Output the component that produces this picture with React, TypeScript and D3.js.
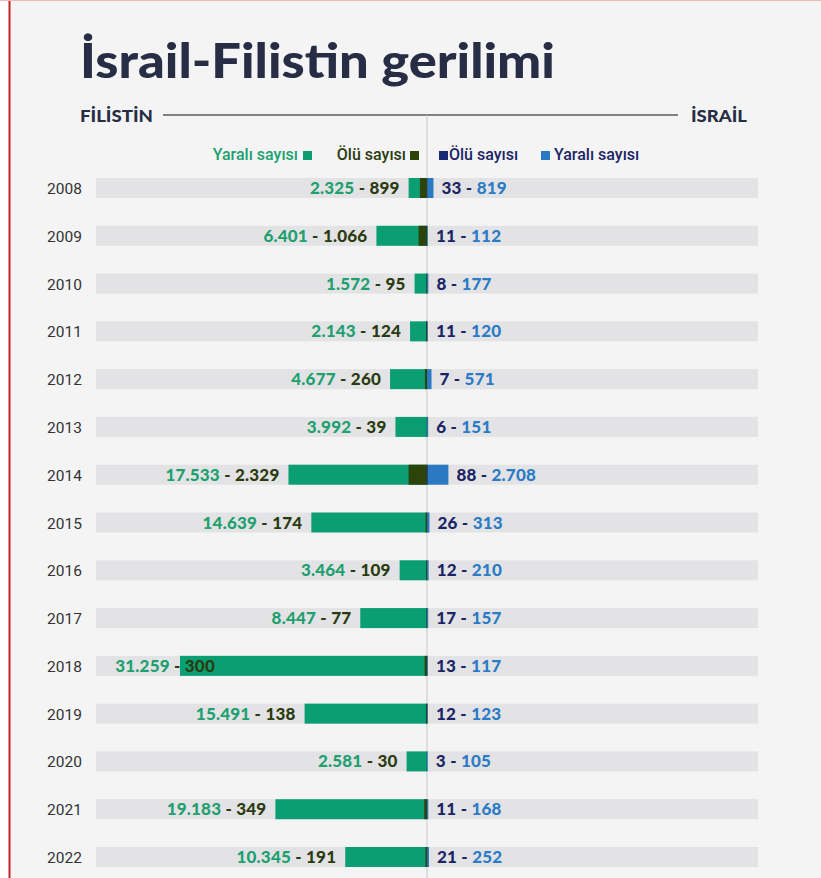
import React from "react";
import * as d3 from "d3";

const years = ["2008","2009","2010","2011","2012","2013","2014","2015","2016","2017","2018","2019","2020","2021","2022"];
const palInjured = [2325, 6401, 1572, 2143, 4677, 3992, 17533, 14639, 3464, 8447, 31259, 15491, 2581, 19183, 10345];
const palDead = [899, 1066, 95, 124, 260, 39, 2329, 174, 109, 77, 300, 138, 30, 349, 191];
const isrDead = [33, 11, 8, 11, 7, 6, 88, 26, 12, 17, 13, 12, 3, 11, 21];
const isrInjured = [819, 112, 177, 120, 571, 151, 2708, 313, 210, 157, 117, 123, 105, 168, 252];

const W = 821, H = 878;
const CX = 427;
const C = {
  bg: "#f4f4f4",
  title: "#262d45",
  greenBar: "#0c9e73",
  oliveBar: "#2c4309",
  blueBar: "#2b79c3",
  navyBar: "#182a72",
  greenText: "#20a06f",
  oliveText: "#2b3b10",
  navyText: "#1b2566",
  blueText: "#2b7bc6",
  track: "#e3e3e5",
};

const locale = d3.formatLocale({ decimal: ",", thousands: ".", grouping: [3], currency: ["", "₺"] });
const fmt = locale.format(",d");

export default function App() {
  const x = d3.scaleLinear().domain([0, d3.max(palInjured)!]).range([0, 247]);
  const y = d3.scalePoint<string>().domain(years).range([188, 857]);
  const numFont = "Lato, 'Open Sans', sans-serif";
  const sans = "Roboto, 'Noto Sans', sans-serif";
  return (
    <svg width={W} height={H} style={{ position: "absolute", left: 0, top: 0, display: "block" }}>
      <rect x={0} y={0} width={W} height={H} fill="#ffffff" />
      <rect x={10} y={0} width={W - 10} height={H} fill={C.bg} />
      <line x1={9.5} x2={9.5} y1={0} y2={H} stroke="#c8232c" strokeWidth={2} />
      <line x1={0} x2={W} y1={0.5} y2={0.5} stroke="#efb9b9" strokeWidth={1} />

      <text x={80} y={78} fontFamily={numFont} fontWeight={900} fontSize={48} fill={C.title}
        textLength={475} lengthAdjust="spacingAndGlyphs">İsrail-Filistin gerilimi</text>

      <text x={80} y={122} fontFamily={numFont} fontWeight={900} fontSize={16} fill={C.title}
        textLength={73} lengthAdjust="spacingAndGlyphs">FİLİSTİN</text>
      <text x={691} y={122} fontFamily={numFont} fontWeight={900} fontSize={16} fill={C.title}
        textLength={56} lengthAdjust="spacingAndGlyphs">İSRAİL</text>
      <line x1={163} x2={678} y1={115} y2={115} stroke="#5a5a5a" strokeWidth={1.3} />
      <line x1={CX} x2={CX} y1={115} y2={H} stroke="#c9c9c9" strokeWidth={1} />

      {/* legend */}
      <g fontFamily={sans} fontSize={16} fontWeight={500}>
        <text x={298} y={160} textAnchor="end" fill={C.greenText}>Yaralı sayısı</text>
        <rect x={303} y={151} width={9} height={9} fill={C.greenBar} />
        <text x={406} y={160} textAnchor="end" fill={C.oliveText}>Ölü sayısı</text>
        <rect x={410} y={151} width={9} height={9} fill={C.oliveBar} />
        <rect x={439} y={151} width={9} height={9} fill={C.navyBar} />
        <text x={449} y={160} fill={C.navyText}>Ölü sayısı</text>
        <rect x={541} y={151} width={9} height={9} fill={C.blueBar} />
        <text x={554} y={160} fill={C.navyText}>Yaralı sayısı</text>
      </g>

      {years.map((yr, i) => {
        const cy = y(yr)!;
        const pInj = x(palInjured[i]);
        const pDead = x(palDead[i]);
        const iInj = x(isrInjured[i]);
        const iDead = x(isrDead[i]);
        const pLabelEnd = Math.max(CX - pInj - 9, 215);
        const iLabelStart = CX + Math.max(iInj, iDead) + 8;
        return (
          <g key={yr}>
            <text x={47} y={cy + 6} fontFamily={sans} fontSize={15.5} fill="#333">{yr}</text>
            <rect x={96} y={cy - 10} width={758 - 96} height={20} fill={C.track} />
            <rect x={CX - pInj} y={cy - 10} width={pInj} height={20} fill={C.greenBar} />
            <rect x={CX - pDead} y={cy - 10} width={pDead} height={20} fill={C.oliveBar} />
            <rect x={CX} y={cy - 10} width={iInj} height={20} fill={C.blueBar} />
            <rect x={CX} y={cy - 10} width={iDead} height={20} fill={C.navyBar} />
            <text x={pLabelEnd} y={cy + 6} textAnchor="end" fontFamily={numFont} fontWeight={900} fontSize={17} letterSpacing={0.2}>
              <tspan fill={C.greenText}>{fmt(palInjured[i])}</tspan>
              <tspan fill={C.oliveText}>{" - "}{fmt(palDead[i])}</tspan>
            </text>
            <text x={iLabelStart} y={cy + 6} fontFamily={numFont} fontWeight={900} fontSize={17} letterSpacing={0.2}>
              <tspan fill={C.navyText}>{fmt(isrDead[i])}{" - "}</tspan>
              <tspan fill={C.blueText}>{fmt(isrInjured[i])}</tspan>
            </text>
          </g>
        );
      })}
    </svg>
  );
}
